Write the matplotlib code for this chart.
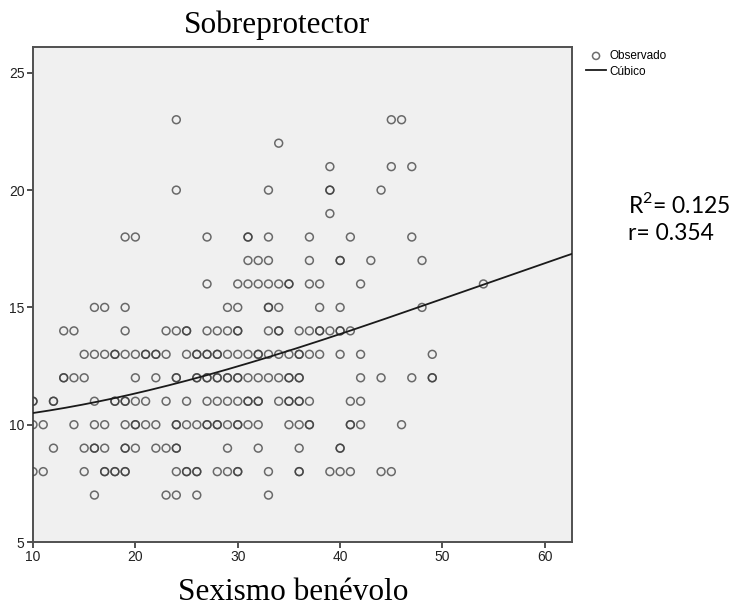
import matplotlib
matplotlib.use('Agg')
import matplotlib.pyplot as plt
import numpy as np

# Observed points, one list per y level (repeated x = overlapping circles)
x_at_23 = [24, 45, 46]
x_at_22 = [34]
x_at_21 = [39, 45, 47]
x_at_20 = [24, 33, 39, 39, 44]
x_at_19 = [39]
x_at_18 = [19, 20, 27, 31, 31, 33, 37, 41, 47]
x_at_17 = [31, 32, 33, 37, 40, 40, 43, 48]
x_at_16 = [27, 30, 31, 32, 33, 34, 35, 35, 37, 38, 42, 54]
x_at_15 = [16, 17, 19, 29, 30, 33, 33, 34, 38, 40, 48]
x_at_14 = [13, 14, 19, 23, 24, 25, 25, 27, 28, 29, 30, 30, 33, 34, 34,
           36, 37, 38, 38, 39, 40, 40, 41]
x_at_13 = [15, 16, 17, 18, 18, 19, 20, 21, 21, 22, 22, 23, 25, 26, 26,
           27, 27, 28, 28, 29, 30, 31, 32, 32, 33, 34, 35, 36, 36, 37,
           38, 40, 42, 49]
x_at_12 = [13, 13, 14, 15, 20, 22, 24, 24, 26, 26, 27, 27, 28, 28, 29,
           29, 30, 30, 31, 32, 33, 34, 35, 35, 36, 36, 42, 44, 47, 49, 49]
x_at_11 = [10, 10, 12, 12, 16, 18, 18, 19, 19, 20, 21, 23, 25, 27, 28,
           29, 30, 31, 31, 32, 32, 34, 35, 35, 36, 36, 37, 41, 42]
x_at_10 = [10, 11, 14, 16, 17, 19, 20, 20, 21, 22, 24, 24, 25, 26, 27,
           27, 28, 28, 29, 30, 30, 31, 32, 35, 36, 37, 37, 41, 41, 42, 46]
x_at_9 = [12, 15, 16, 16, 17, 19, 19, 20, 22, 23, 24, 24, 29, 32, 36,
          40, 40]
x_at_8 = [10, 11, 15, 17, 17, 18, 18, 19, 19, 24, 25, 25, 26, 26, 28,
          29, 30, 30, 33, 36, 36, 39, 40, 41, 44, 45]
x_at_7 = [16, 23, 24, 26, 33]

y_levels = [23, 22, 21, 20, 19, 18, 17, 16, 15, 14, 13, 12, 11, 10, 9, 8, 7]
x_rows = [x_at_23, x_at_22, x_at_21, x_at_20, x_at_19, x_at_18, x_at_17,
          x_at_16, x_at_15, x_at_14, x_at_13, x_at_12, x_at_11, x_at_10,
          x_at_9, x_at_8, x_at_7]

# Cubic curve, points
curve_x = [10, 17.5, 26, 36.2, 41.7, 48.2, 54.2, 62.6]
curve_y = [10.5, 11.07, 12.04, 13.28, 14.13, 15.05, 16.06, 17.26]

obs_x = np.concatenate([np.array(r, float) for r in x_rows])
obs_y = np.concatenate([np.full(len(r), y, float) for r, y in zip(x_rows, y_levels)])

plt.rcParams['mathtext.fontset'] = 'custom'
plt.rcParams['mathtext.rm'] = 'Lato'

fig = plt.figure(figsize=(7.44, 6.10), dpi=100)
ax = fig.add_axes([33 / 744, 1 - 542 / 610, (572 - 33) / 744, (542 - 47) / 610])
ax.set_facecolor('#f0f0f0')

ax.scatter(obs_x, obs_y, s=32, facecolors='none', edgecolors='#3c3c3c',
           linewidths=1.1, alpha=0.75, zorder=3, label='Observado')

coef = np.polyfit(curve_x, curve_y, 3)
xs = np.linspace(10, 62.65, 200)
ax.plot(xs, np.polyval(coef, xs), color='#1a1a1a', lw=1.3, zorder=4, label='Cúbico')

ax.set_xlim(10, 62.65)
ax.set_ylim(5, 26.1)
ax.set_xticks([10, 20, 30, 40, 50, 60])
ax.set_yticks([5, 10, 15, 20, 25])
for side in ['top', 'right', 'bottom', 'left']:
    ax.spines[side].set_color('#505050')
    ax.spines[side].set_linewidth(1.4)
ax.tick_params(direction='out', length=4, width=1.4, color='#505050',
               labelsize=10, labelcolor='#222222', pad=2)
for lab in ax.get_xticklabels() + ax.get_yticklabels():
    lab.set_family('Liberation Sans')

leg = fig.legend(loc='upper left', bbox_to_anchor=(586 / 744, 1 - 50 / 610),
                 frameon=False, handlelength=1.7,
                 handletextpad=0.3, labelspacing=0.3, borderpad=0,
                 borderaxespad=0, markerscale=0.9,
                 prop={'family': 'Liberation Sans', 'size': 8.5})

fig.text(277 / 744, 1 - 25 / 610, 'Sobreprotector', ha='center', va='center',
         family='Liberation Serif', fontsize=22.5)
fig.text(293 / 744, 1 - 593 / 610, 'Sexismo benévolo', ha='center', va='center',
         family='Liberation Serif', fontsize=22.5)

fig.text(628 / 744, 1 - 204 / 610, 'R$^{\\mathrm{2}}$= 0.125', ha='left', va='center',
         family='Lato', fontsize=16.5)
fig.text(628 / 744, 1 - 233 / 610, 'r= 0.354', ha='left', va='center',
         family='Lato', fontsize=16.5)

fig.savefig('out.png', dpi=100)
